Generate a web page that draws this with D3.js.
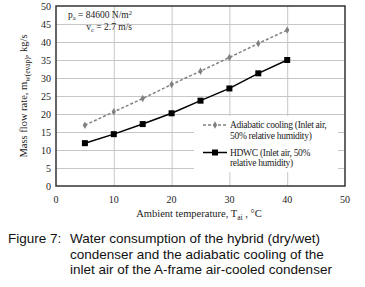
<!DOCTYPE html>
<html>
<head>
<meta charset="utf-8">
<script src="https://cdn.jsdelivr.net/npm/d3@7"></script>
<style>
  body { margin: 0; background: #fff; }
  svg { display: block; }
  .serif { font-family: "Liberation Serif", "Times New Roman", serif; fill: #222; }
  .cap { font-family: "Liberation Sans", Arial, sans-serif; font-size: 13.5px; fill: #111; }
</style>
</head>
<body>
<svg id="chart" width="365" height="287"></svg>
<script>
const temps = [5, 10, 15, 20, 25, 30, 35, 40];
const adiabatic = [16.9, 20.6, 24.3, 28.2, 31.9, 35.7, 39.6, 43.3];
const hdwc = [11.9, 14.4, 17.2, 20.2, 23.7, 27.1, 31.3, 35.0];
const xTicks = [0, 10, 20, 30, 40, 50];
const yTicks = [0, 5, 10, 15, 20, 25, 30, 35, 40, 45, 50];
const captionLines = [
  "Water consumption of the hybrid (dry/wet)",
  "condenser and the adiabatic cooling of the",
  "inlet air of the A-frame air-cooled condenser"
];

const svg = d3.select("#chart");
const plotL = 56, plotR = 345, plotT = 6, plotB = 186;

const x = d3.scaleLinear().domain([0, 50]).range([plotL, plotR]);
const y = d3.scaleLinear().domain([0, 50]).range([plotB, plotT]);

// grid
const grid = svg.append("g").attr("stroke", "#c6c6c6").attr("stroke-width", 1);
grid.selectAll(".gx").data(xTicks.filter((d) => d > 0 && d < 50)).join("line")
  .attr("x1", (d) => x(d) + 0.5).attr("x2", (d) => x(d) + 0.5)
  .attr("y1", plotT).attr("y2", plotB);
grid.selectAll(".gy").data(yTicks.filter((d) => d > 0 && d < 50)).join("line")
  .attr("x1", plotL).attr("x2", plotR)
  .attr("y1", (d) => y(d) + 0.5).attr("y2", (d) => y(d) + 0.5);

// tick labels
svg.append("g").selectAll("text").data(yTicks).join("text")
  .attr("class", "serif").attr("font-size", 10)
  .attr("x", plotL - 5).attr("y", (d) => y(d) + 3.5)
  .attr("text-anchor", "end").text((d) => d);
svg.append("g").selectAll("text").data(xTicks).join("text")
  .attr("class", "serif").attr("font-size", 10)
  .attr("x", (d) => x(d)).attr("y", 203)
  .attr("text-anchor", "middle").text((d) => d);

// axis titles
const xt = svg.append("text").attr("class", "serif").attr("font-size", 10.5)
  .attr("x", 199).attr("y", 217).attr("text-anchor", "middle");
xt.append("tspan").text("Ambient temperature, T");
xt.append("tspan").attr("font-size", 7.5).attr("dy", 2.5).text("ai");
xt.append("tspan").attr("dy", -2.5).text(" , \u00b0C");

const yt = svg.append("text").attr("class", "serif").attr("font-size", 10.5)
  .attr("transform", `translate(27,${(plotT + plotB) / 2}) rotate(-90)`)
  .attr("text-anchor", "middle");
yt.append("tspan").text("Mass flow rate, m");
yt.append("tspan").attr("font-size", 7.5).attr("dy", 2.5).text("w(evap)");
yt.append("tspan").attr("dy", -2.5).text(", kg/s");

// series
const line = d3.line().x((d) => x(d[0])).y((d) => y(d[1]));
const adiaPts = temps.map((t, i) => [t, adiabatic[i]]);
const hdwcPts = temps.map((t, i) => [t, hdwc[i]]);

svg.append("path").datum(adiaPts).attr("d", line).attr("fill", "none")
  .attr("stroke", "#808080").attr("stroke-width", 1.5).attr("stroke-dasharray", "3,2");
svg.append("path").datum(hdwcPts).attr("d", line).attr("fill", "none")
  .attr("stroke", "#000").attr("stroke-width", 1.5);

const diamond = d3.symbol().type(d3.symbolDiamond).size(16);
svg.append("g").selectAll("path").data(adiaPts).join("path")
  .attr("d", diamond).attr("fill", "#808080")
  .attr("transform", (d) => `translate(${x(d[0])},${y(d[1])})`);
svg.append("g").selectAll("rect").data(hdwcPts).join("rect")
  .attr("x", (d) => x(d[0]) - 3).attr("y", (d) => y(d[1]) - 3)
  .attr("width", 6).attr("height", 6).attr("fill", "#000");

// legend
svg.append("rect").attr("x", 194).attr("y", 116).attr("width", 144).attr("height", 56).attr("fill", "#fff");
svg.append("line").attr("x1", 203).attr("x2", 227).attr("y1", 125).attr("y2", 125)
  .attr("stroke", "#808080").attr("stroke-width", 1.5).attr("stroke-dasharray", "3,2");
svg.append("path").attr("d", diamond).attr("fill", "#808080").attr("transform", "translate(215,125)");
svg.append("line").attr("x1", 203).attr("x2", 227).attr("y1", 152.5).attr("y2", 152.5)
  .attr("stroke", "#000").attr("stroke-width", 1.5);
svg.append("rect").attr("x", 212).attr("y", 149.5).attr("width", 6).attr("height", 6).attr("fill", "#000");

const legendText = [
  ["Adiabatic cooling (Inlet air,", 128],
  ["50% relative humidity)", 138.5],
  ["HDWC (Inlet air, 50%", 155.5],
  ["relative humidity)", 166]
];
svg.append("g").selectAll("text").data(legendText).join("text")
  .attr("class", "serif").attr("font-size", 9.5).attr("letter-spacing", -0.3)
  .attr("x", 230).attr("y", (d) => d[1]).text((d) => d[0]);

// annotation
const a1 = svg.append("text").attr("class", "serif").attr("font-size", 9.5)
  .attr("x", 132).attr("y", 18).attr("text-anchor", "end");
a1.append("tspan").text("p");
a1.append("tspan").attr("font-size", 6.5).attr("dy", 2).text("a");
a1.append("tspan").attr("dy", -2).text(" = 84600 N/m");
a1.append("tspan").attr("font-size", 6.5).attr("dy", -3.5).text("2");
const a2 = svg.append("text").attr("class", "serif").attr("font-size", 9.5)
  .attr("x", 132).attr("y", 30).attr("text-anchor", "end");
a2.append("tspan").text("v");
a2.append("tspan").attr("font-size", 6.5).attr("dy", 2).text("c");
a2.append("tspan").attr("dy", -2).text(" = 2.7 m/s");

// plot border
svg.append("rect").attr("x", plotL).attr("y", plotT).attr("width", plotR - plotL).attr("height", plotB - plotT)
  .attr("fill", "none").attr("stroke", "#333").attr("stroke-width", 1.5);

// caption
svg.append("text").attr("class", "cap").attr("x", 8).attr("y", 243).text("Figure 7:");
svg.append("g").selectAll("text").data(captionLines).join("text")
  .attr("class", "cap").attr("x", 70).attr("y", (d, i) => 243 + i * 15.5).text((d) => d);
</script>
</body>
</html>
